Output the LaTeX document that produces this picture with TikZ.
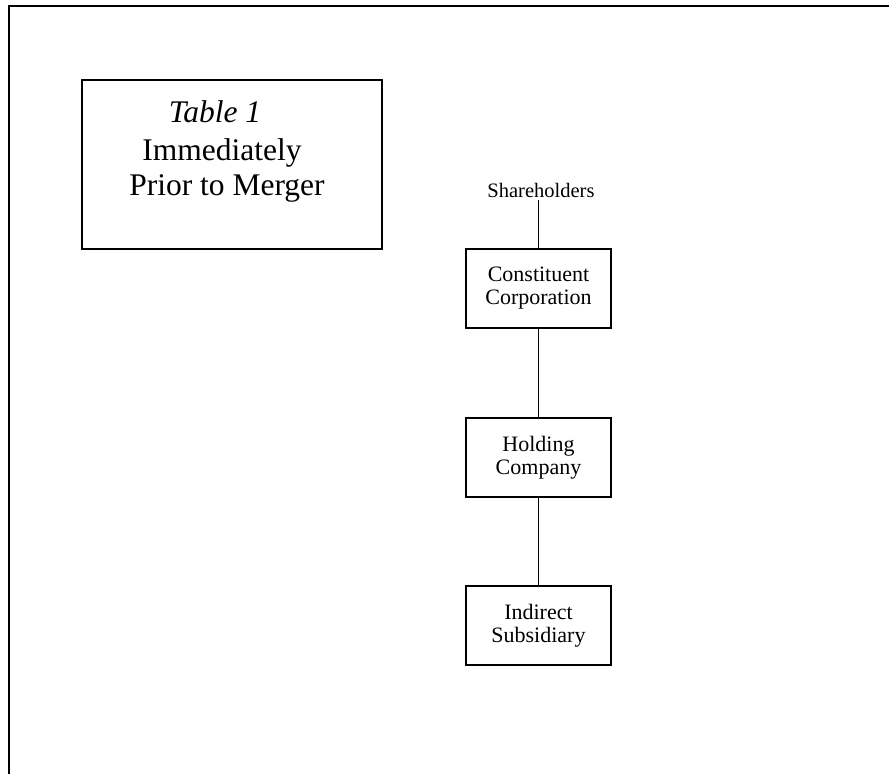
\documentclass[tikz,border=0pt]{standalone}
\usepackage{fontspec}
\setmainfont{Liberation Serif}
\begin{document}
\begin{tikzpicture}[x=1pt,y=-1pt,
  line/.style={line width=1.8pt, black},
  bigtxt/.style={font=\fontsize{31.5}{36}\selectfont, anchor=base, inner sep=0pt},
  orgbox/.style={draw, line width=1.8pt, minimum width=145pt, minimum height=79pt, align=center,
     font=\fontsize{22}{23}\selectfont, inner sep=0pt},
  lbl/.style={font=\fontsize{20.5}{22}\selectfont, inner xsep=0pt, inner ysep=3pt, anchor=base}]
\useasboundingbox (0,0) rectangle (889,774);
\fill[white] (0,0) rectangle (889,774);
% outer frame (open to the right and bottom)
\coordinate (fb) at (9,774);
\coordinate (ftl) at (9,6);
\coordinate (fr) at (889,6);
\draw[line] (fb) -- (ftl) -- (fr);
% title box
\node[draw, line width=1.8pt, minimum width=300pt, minimum height=169pt, inner sep=0pt] (tbl) at (232,164.5) {};
\node[bigtxt] (t1) at (215,122) {\itshape Table 1};
\node[bigtxt] (t2) at (222,160) {Immediately};
\node[bigtxt] (t3) at (227,195) {Prior to Merger};
% chart
\node[lbl] (sh) at (541,197) {Shareholders};
\node[orgbox] (cc) at (538.5,288.5) {Constituent\\Corporation};
\node[orgbox] (hc) at (538.5,457.5) {Holding\\Company};
\node[orgbox] (is) at (538.5,625.5) {Indirect\\Subsidiary};
\draw[line] (sh.south -| cc.north) -- (cc.north);
\draw[line] (cc.south) -- (hc.north);
\draw[line] (hc.south) -- (is.north);
\end{tikzpicture}
\end{document}
